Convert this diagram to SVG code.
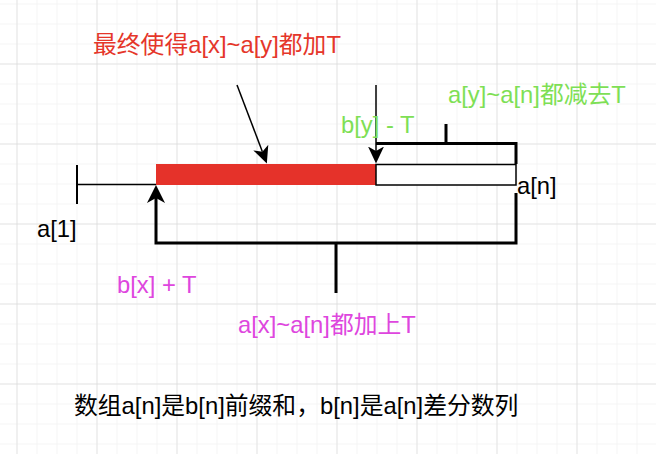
<svg xmlns="http://www.w3.org/2000/svg" width="656" height="454" viewBox="0 0 656 454">
  <defs>
    <pattern id="minor" x="16.5" y="3.5" width="20" height="20" patternUnits="userSpaceOnUse">
      <path d="M0,0 H20 M0,0 V20" fill="none" stroke="#ebebeb" stroke-width="1"/>
    </pattern>
    <pattern id="major" x="16.5" y="63.5" width="80" height="80" patternUnits="userSpaceOnUse">
      <path d="M0,0 H80 M0,0 V80" fill="none" stroke="#d2d2d2" stroke-width="1"/>
    </pattern>
    <marker id="arrowBig" viewBox="0 0 18 18" markerWidth="18" markerHeight="18" refX="5" refY="9" orient="auto" markerUnits="userSpaceOnUse">
      <path d="M0,0 L18,9 L0,18 L5,9 Z" fill="#000"/>
    </marker>
    <marker id="arrowSmall" viewBox="0 0 17 16" markerWidth="17" markerHeight="16" refX="4.5" refY="8" orient="auto" markerUnits="userSpaceOnUse">
      <path d="M0,0 L17,8 L0,16 L4.5,8 Z" fill="#000"/>
    </marker>
  </defs>
  <style>
    text { font-family: "Liberation Sans", "Noto Sans CJK SC", sans-serif; font-size: 23.8px; }
    .red { fill: #e5362a; }
    .green { fill: #7edf55; }
    .magenta { fill: #de46de; }
    .black { fill: #000; }
    .thick { fill: none; stroke: #000; stroke-width: 3; }
    .thin { fill: none; stroke: #000; stroke-width: 1.5; }
  </style>

  <rect width="656" height="454" fill="#fff"/>
  <rect width="656" height="454" fill="url(#minor)"/>
  <rect width="656" height="454" fill="url(#major)"/>

  <g id="start-tick">
    <path class="thin" d="M77,165 V204" style="stroke-width:2"/>
    <path class="thin" d="M77,184.5 H156"/>
  </g>

  <g id="red-segment">
    <rect x="156" y="164" width="220" height="21" fill="#e5322a"/>
  </g>

  <g id="white-segment">
    <rect x="376" y="164.5" width="140" height="20.5" fill="#fff" stroke="#000" stroke-width="1.5"/>
  </g>

  <g id="connectors">
    <path class="thick" d="M376,143.5 H516 V164"/>
    <path class="thick" d="M446,124 V143.5"/>
    <path class="thin" d="M376,85 V151" marker-end="url(#arrowSmall)"/>
    <path class="thick" d="M516,193 V243 H156 V198" marker-end="url(#arrowBig)"/>
    <path class="thick" d="M336,243 V293"/>
    <path class="thin" d="M237,85 L262.4,151.8" marker-end="url(#arrowSmall)"/>
  </g>

  <g id="label-title">
    <text class="red" x="93" y="53">最终使得a[x]~a[y]都加T</text>
  </g>
  <g id="label-ay-an">
    <text class="green" x="448" y="103">a[y]~a[n]都减去T</text>
  </g>
  <g id="label-by">
    <text class="green" x="341" y="133">b[y] - T</text>
  </g>
  <g id="label-an">
    <text class="black" x="517" y="194">a[n]</text>
  </g>
  <g id="label-a1">
    <text class="black" x="37" y="237">a[1]</text>
  </g>
  <g id="label-bx">
    <text class="magenta" x="117" y="293">b[x] + T</text>
  </g>
  <g id="label-ax-an">
    <text class="magenta" x="238" y="333">a[x]~a[n]都加上T</text>
  </g>
  <g id="label-note">
    <text class="black" x="74" y="414">数组a[n]是b[n]前缀和，b[n]是a[n]差分数列</text>
  </g>
</svg>
